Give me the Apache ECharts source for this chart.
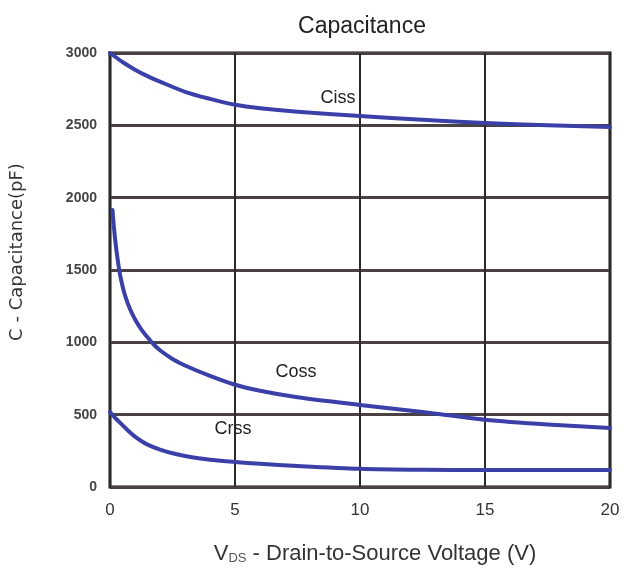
<!DOCTYPE html>
<html>
<head>
<meta charset="utf-8">
<script src="https://cdn.jsdelivr.net/npm/echarts@6/dist/echarts.min.js"></script>
<style>
  html, body { margin: 0; padding: 0; background: #fff; }
  #chart { width: 624px; height: 573px; }
</style>
</head>
<body>
<div id="chart"></div>
<script>
// Drain-source voltage samples (V) and the three capacitance curves (pF)
const vdsCiss = [0, 0.5, 1, 1.5, 2, 3, 4, 5, 6, 7.5, 10, 12.5, 15, 17.5, 20];
const ciss    = [3000, 2938, 2885, 2840, 2802, 2732, 2683, 2642, 2618, 2594, 2565, 2538, 2516, 2500, 2488];

const vdsCoss = [0.1, 0.15, 0.2, 0.3, 0.4, 0.5, 0.6, 0.8, 1, 1.25, 1.5, 1.75, 2, 2.5, 3, 4, 5, 6, 7.5, 10, 12.5, 15, 17.5, 20];
const coss    = [1915, 1810, 1720, 1580, 1470, 1390, 1325, 1230, 1160, 1090, 1035, 985, 945, 885, 840, 768, 707, 665, 620, 567, 518, 465, 432, 408];

const vdsCrss = [0, 0.25, 0.5, 0.75, 1, 1.25, 1.5, 2, 2.5, 3, 4, 5, 6, 7.5, 10, 12.5, 15, 20];
const crss    = [518, 470, 428, 385, 348, 318, 293, 258, 233, 214, 188, 173, 160, 145, 126, 119, 117, 117];

// Curve name tags, placed in data coordinates
const tagNames = ['Ciss', 'Coss', 'Crss'];
const tagX     = [9.12, 7.44, 4.92];
const tagY     = [2689, 795, 401];

const xTicks = [0, 5, 10, 15, 20];
const yTicks = [0, 500, 1000, 1500, 2000, 2500, 3000];

const lineColor = '#3b40a8';
const sans = 'Liberation Sans, Arial, sans-serif';
const pair = (xs, ys) => xs.map((x, i) => [x, ys[i]]);

function curve(name, xs, ys, tagIdx) {
  return {
    name: name,
    type: 'line',
    smooth: 0.3,
    showSymbol: false,
    data: pair(xs, ys),
    lineStyle: { color: lineColor, width: 4, join: 'round', cap: 'round' },
    itemStyle: { color: lineColor },
    markPoint: {
      symbol: 'circle',
      symbolSize: 0,
      silent: true,
      label: {
        show: true,
        formatter: tagNames[tagIdx],
        color: '#222',
        fontSize: 18,
        fontFamily: sans
      },
      data: [{ coord: [tagX[tagIdx], tagY[tagIdx]] }]
    }
  };
}

const chart = echarts.init(document.getElementById('chart'), null, { renderer: 'canvas' });
chart.setOption({
  animation: false,
  backgroundColor: '#ffffff',
  title: {
    text: 'Capacitance',
    left: 357,
    top: 10,
    textAlign: 'center',
    textStyle: { fontSize: 23, fontWeight: 'normal', color: '#222', fontFamily: sans }
  },
  grid: {
    left: 110, right: 14, top: 53, bottom: 86,
    show: true, borderColor: '#111', borderWidth: 3, backgroundColor: '#fff'
  },
  xAxis: {
    type: 'value',
    min: xTicks[0], max: xTicks[xTicks.length - 1], interval: 5,
    axisLine: { show: false },
    axisTick: { show: false },
    axisLabel: { margin: 15, fontSize: 17, color: '#333', fontFamily: sans },
    splitLine: { show: true, lineStyle: { color: '#2a2a2a', width: 2 } },
    name: '{v|V}{s|DS}{t| - Drain-to-Source Voltage (V)}',
    nameLocation: 'middle',
    nameGap: 56,
    nameTextStyle: {
      padding: [0, 0, 0, 30],
      rich: {
        v: { fontSize: 22, color: '#333', fontFamily: sans },
        s: { fontSize: 13, color: '#555', verticalAlign: 'bottom', padding: [8, 0, 0, 0], fontFamily: sans },
        t: { fontSize: 22, color: '#333', fontFamily: sans }
      }
    }
  },
  yAxis: {
    type: 'value',
    min: yTicks[0], max: yTicks[yTicks.length - 1], interval: 500,
    axisLine: { show: false },
    axisTick: { show: false },
    axisLabel: {
      margin: 13, fontSize: 14, fontWeight: 'bold', color: '#444', fontFamily: sans,
      formatter: v => String(v)
    },
    splitLine: { show: true, lineStyle: { color: '#4a4242', width: 3 } },
    name: 'C - Capacitance(pF)',
    nameLocation: 'middle',
    nameGap: 84,
    nameTextStyle: { fontSize: 18, color: '#333', fontFamily: 'DejaVu Sans, sans-serif', padding: [0, 0, 0, 36] }
  },
  series: [
    curve('Ciss', vdsCiss, ciss, 0),
    curve('Coss', vdsCoss, coss, 1),
    curve('Crss', vdsCrss, crss, 2)
  ]
});
</script>
</body>
</html>
